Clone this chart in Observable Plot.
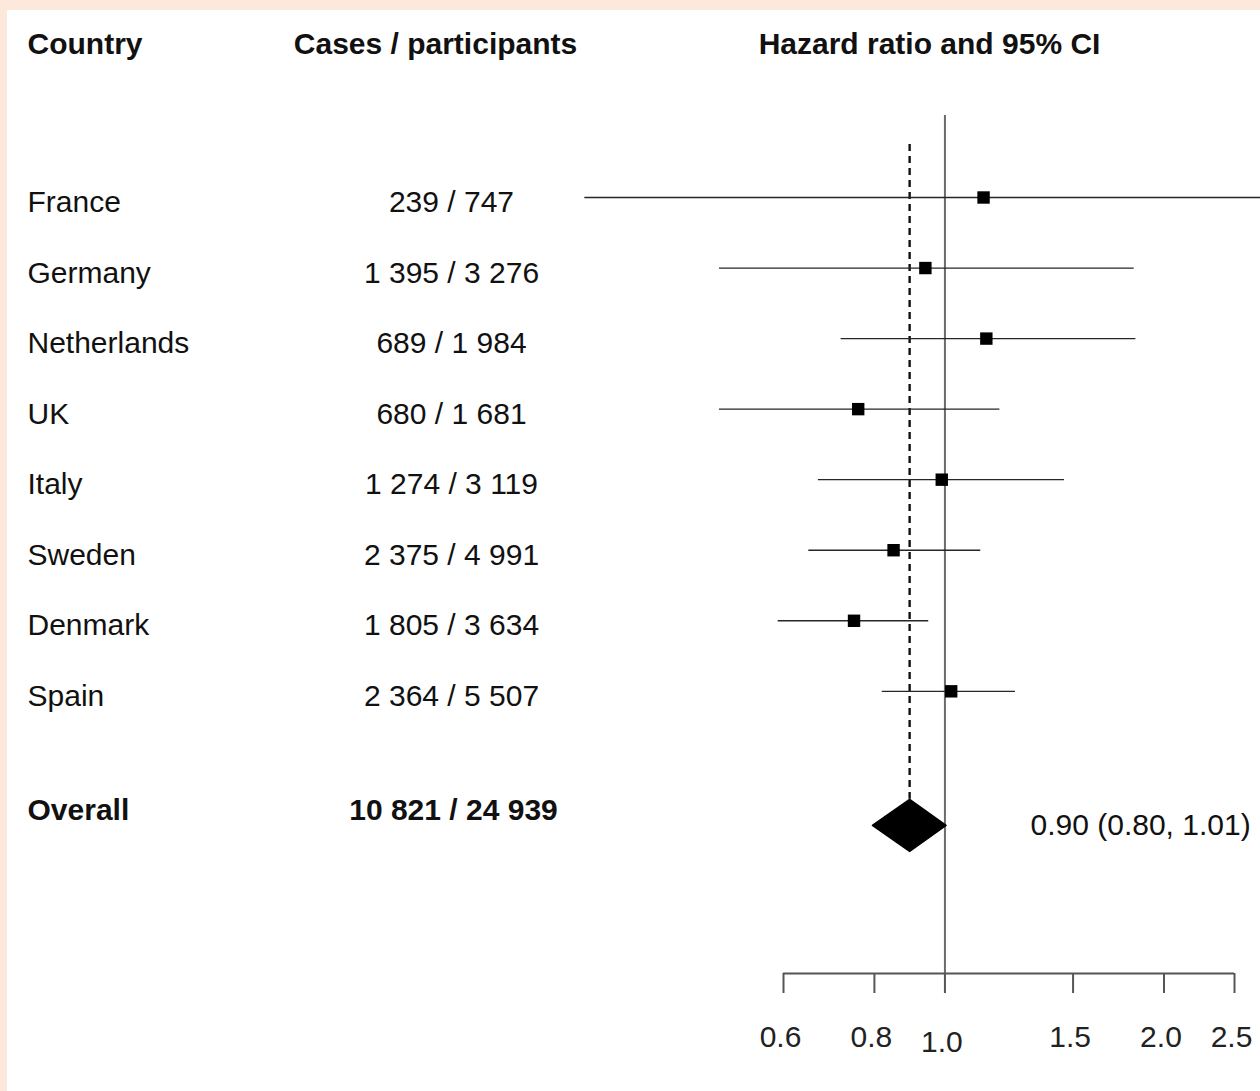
<!DOCTYPE html>
<html>
<head>
<meta charset="utf-8">
<script src="https://cdn.jsdelivr.net/npm/d3@7"></script>
<script src="https://cdn.jsdelivr.net/npm/@observablehq/plot@0.6"></script>
<style>
  html, body { margin: 0; padding: 0; }
  body { background: #fde9db; width: 1260px; height: 1091px; overflow: hidden; position: relative; }
  #chart { position: absolute; left: 7px; top: 10px; width: 1253px; height: 1081px; background: #fff; overflow: hidden; }
</style>
</head>
<body>
<div id="chart"></div>
<script>
// ---- data ----
const countries = ["France", "Germany", "Netherlands", "UK", "Italy", "Sweden", "Denmark", "Spain"];
const casesParticipants = ["239 / 747", "1 395 / 3 276", "689 / 1 984", "680 / 1 681", "1 274 / 3 119", "2 375 / 4 991", "1 805 / 3 634", "2 364 / 5 507"];
const hazardRatio = [1.13, 0.94, 1.14, 0.76, 0.99, 0.85, 0.75, 1.02];
const ciLower = [0.32, 0.49, 0.72, 0.49, 0.67, 0.65, 0.59, 0.82];
const ciUpper = [3.0, 1.82, 1.83, 1.19, 1.46, 1.12, 0.95, 1.25];
const overallLabel = "Overall";
const overallCases = "10 821 / 24 939";
const overallHR = 0.90;
const overallLower = 0.80;
const overallUpper = 1.01;
const overallText = "0.90 (0.80, 1.01)";
const headers = ["Country", "Cases / participants", "Hazard ratio and 95% CI"];
const tickValues = [0.6, 0.8, 1.0, 1.5, 2.0, 2.5];

// ---- derived tables ----
const rows = countries.map((c, i) => ({
  country: c, cases: casesParticipants[i], hr: hazardRatio[i], lo: ciLower[i], hi: ciUpper[i], row: i + 1
}));
const overallRow = countries.length + 1.9;
const axisRow = countries.length + 4;
const dHalf = 0.37;
const overall = [{label: overallLabel, cases: overallCases, hr: overallHR, lo: overallLower, hi: overallUpper, text: overallText, row: overallRow}];
const diamond = [
  {x: overallLower, y: overallRow},
  {x: overallHR, y: overallRow - dHalf},
  {x: overallUpper, y: overallRow},
  {x: overallHR, y: overallRow + dHalf},
  {x: overallLower, y: overallRow}
];
const font = "'Liberation Sans', Arial, Helvetica, sans-serif";
const fs = 30;

const chart = Plot.plot({
  width: 1253,
  height: 1081,
  marginTop: 105,
  marginBottom: 118,
  marginLeft: 0,
  marginRight: 0,
  style: {fontFamily: font, background: "white", color: "#111"},
  x: {type: "log", domain: [0.6, 2.5], range: [776, 1227], label: null},
  y: {type: "linear", domain: [1, axisRow], range: [187, 963], axis: null},
  marks: [
    // reference line at HR = 1
    Plot.ruleX([1], {stroke: "#6b6b6b", strokeWidth: 2}),
    // dashed line at overall estimate
    Plot.ruleX(overall, {x: "hr", dx: -2, y1: 0.25, y2: d => d.row - dHalf, stroke: "#111", strokeWidth: 2.4, strokeDasharray: "7,5"}),
    // confidence intervals
    Plot.ruleY(rows, {y: "row", x1: "lo", x2: "hi", stroke: "#262626", strokeWidth: 1.3}),
    // point estimates
    Plot.dot(rows, {x: "hr", y: "row", symbol: "square", r: 7, fill: "black", stroke: "none"}),
    // overall diamond
    Plot.line(diamond, {x: "x", y: "y", dx: -2, fill: "black", stroke: "black", strokeWidth: 1.5}),
    // axis line
    Plot.ruleY([axisRow], {x1: tickValues[0], x2: tickValues[tickValues.length - 1], stroke: "#555", strokeWidth: 2}),
    Plot.axisX({ticks: tickValues.filter(t => t !== 1), tickFormat: d => d.toFixed(1), tickSize: 20, tickPadding: 32, fontSize: 30, fill: "#222", stroke: "#555", strokeWidth: 2, label: null}),
    Plot.axisX({ticks: [1], tickFormat: d => d.toFixed(1), tickSize: 20, tickPadding: 37, fontSize: 30, fill: "#222", stroke: "#555", strokeWidth: 2, label: null}),
    // headers
    Plot.text([headers[0]], {text: d => d, frameAnchor: "top-left", dx: 20, dy: -71, textAnchor: "start", lineAnchor: "middle", fontWeight: "bold", fontSize: fs, fill: "#111"}),
    Plot.text([headers[1]], {text: d => d, frameAnchor: "top-left", dx: 428, dy: -71, textAnchor: "middle", lineAnchor: "middle", fontWeight: "bold", fontSize: fs, fill: "#111"}),
    Plot.text([headers[2]], {text: d => d, frameAnchor: "top-left", dx: 922, dy: -71, textAnchor: "middle", lineAnchor: "middle", fontWeight: "bold", fontSize: fs, fill: "#111"}),
    // row labels
    Plot.text(rows, {y: "row", text: "country", frameAnchor: "left", dx: 20, dy: 5, textAnchor: "start", lineAnchor: "middle", fontSize: fs, fill: "#111"}),
    Plot.text(rows, {y: "row", text: "cases", frameAnchor: "left", dx: 444, dy: 5, textAnchor: "middle", lineAnchor: "middle", fontSize: fs, fill: "#111"}),
    // overall
    Plot.text(overall, {y: "row", text: "label", frameAnchor: "left", dx: 20, dy: -15, textAnchor: "start", lineAnchor: "middle", fontWeight: "bold", fontSize: fs, fill: "#111"}),
    Plot.text(overall, {y: "row", text: "cases", frameAnchor: "left", dx: 446, dy: -15, textAnchor: "middle", lineAnchor: "middle", fontWeight: "bold", fontSize: fs, fill: "#111"}),
    Plot.text(overall, {y: "row", text: "text", frameAnchor: "left", dx: 1023, dy: 0, textAnchor: "start", lineAnchor: "middle", fontSize: fs, fill: "#111"})
  ]
});
// shift tick labels slightly left, as in the reference
chart.querySelectorAll("g[aria-label='x-axis tick label'] text").forEach(t => t.setAttribute("dx", "-3"));
document.getElementById("chart").appendChild(chart);
</script>
</body>
</html>
